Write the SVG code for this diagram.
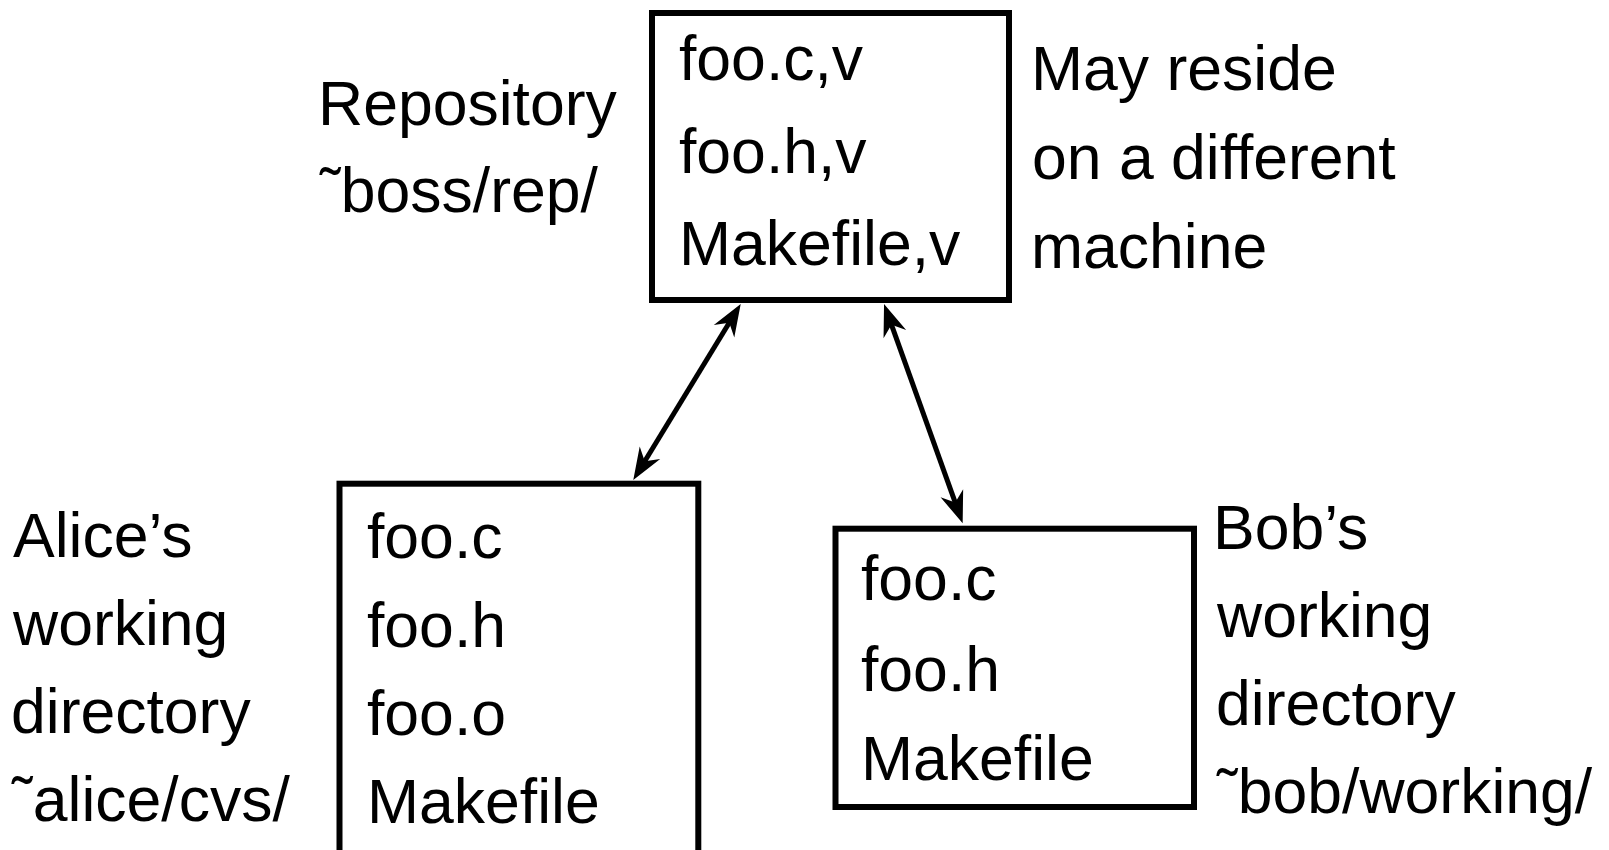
<svg xmlns="http://www.w3.org/2000/svg" width="1609" height="850" viewBox="0 0 1609 850">
<style>
.box{fill:#fff;stroke:#000;stroke-width:6}
.t{font-family:"Liberation Sans",Arial,Helvetica,sans-serif;font-size:62.5px;fill:#000}
.conn{stroke:#000;stroke-width:5;fill:none;marker-start:url(#ah);marker-end:url(#ah)}
</style>
<defs>
<marker id="ah" markerUnits="userSpaceOnUse" orient="auto-start-reverse" refX="0" refY="0" markerWidth="60" markerHeight="60" viewBox="-30 -30 60 60" overflow="visible">
<path d="M15,0 L-17,-12 L-7,0 L-17,12 Z" fill="#000"/>
</marker>
</defs>
<rect width="1609" height="850" fill="#fff"/>
<g id="repository">
<rect class="box" x="652" y="13" width="357" height="287"/>
<text class="t" x="679" y="80">foo.c,v</text>
<text class="t" x="679" y="173">foo.h,v</text>
<text class="t" x="679" y="265">Makefile,v</text>
</g>
<g id="repository-label">
<text class="t" x="318" y="125">Repository</text>
<text class="t" x="320" y="212">˜boss/rep/</text>
</g>
<g id="note">
<text class="t" x="1031" y="90">May reside</text>
<text class="t" x="1032" y="179">on a different</text>
<text class="t" x="1031" y="268">machine</text>
</g>
<g id="alice">
<rect class="box" x="339.5" y="483.7" width="358.8" height="372"/>
<text class="t" x="367" y="558">foo.c</text>
<text class="t" x="367" y="646.5">foo.h</text>
<text class="t" x="367" y="735">foo.o</text>
<text class="t" x="367" y="823">Makefile</text>
</g>
<g id="alice-label">
<text class="t" x="13" y="557">Alice’s</text>
<text class="t" x="13" y="645">working</text>
<text class="t" x="11" y="733">directory</text>
<text class="t" x="12" y="821">˜alice/cvs/</text>
</g>
<g id="bob">
<rect class="box" x="835.5" y="528.7" width="358.5" height="278.3"/>
<text class="t" x="861" y="600">foo.c</text>
<text class="t" x="861" y="690.5">foo.h</text>
<text class="t" x="861" y="780">Makefile</text>
</g>
<g id="bob-label">
<text class="t" x="1213" y="549">Bob’s</text>
<text class="t" x="1217" y="637">working</text>
<text class="t" x="1216" y="725">directory</text>
<text class="t" x="1217" y="813">˜bob/working/</text>
</g>
<g id="connectors">
<path class="conn" d="M732.9,316.8 L641.1,467.2"/>
<path class="conn" d="M889.1,318.1 L957.6,509.2"/>
</g>
</svg>
